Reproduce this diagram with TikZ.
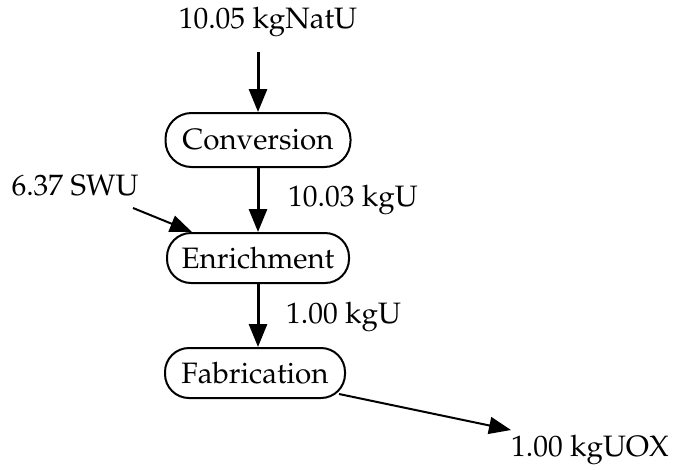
\documentclass[tikz,border=0pt]{standalone}
\usepackage[T1]{fontenc}
\usepackage{mathpazo}
\usetikzlibrary{arrows.meta}
\begin{document}
\begin{tikzpicture}[x=1pt,y=-1pt,
  every node/.style={font=\fontsize{29.5}{34}\selectfont},
  stage/.style={draw,line width=2pt,rounded corners=24pt,inner sep=0pt,minimum height=50pt},
  lbl/.style={inner sep=0pt},
  flow/.style={line width=3pt,-{Triangle[length=23pt,width=18pt]}},
  thin/.style={line width=2pt,-{Triangle[length=22pt,width=17pt]}}]
\useasboundingbox (0,0) rectangle (682,469);
\node[stage,minimum width=185pt,minimum height=54pt,rounded corners=26pt] (conv) at (258,140) {Conversion};
\node[stage,minimum width=182pt] (enr) at (258,258) {Enrichment};
\node[stage,minimum width=180pt] (fab) at (255,373) {Fabrication};
\node[lbl] (natu) at (268,22) {10.05 kgNatU};
\node[lbl,anchor=west] (l2) at (288,200) {10.03 kgU};
\node[lbl] (swu) at (75,186) {6.37 SWU};
\node[lbl,anchor=west] (l3) at (286,317) {1.00 kgU};
\node[lbl] (uox) at (590,450) {1.00 kgUOX};
\coordinate (natuS) at (258,52);
\coordinate (swuS) at (133,208);
\coordinate (uoxN) at (511,430);
\draw[flow] (natuS) -- (conv.north);
\draw[flow] (conv.south) -- (enr.north);
\draw[flow] (enr.south) -- (enr.south |- fab.north);
\draw[thin] (swuS) -- ([xshift=-66pt]enr.north);
\draw[thin] ([xshift=-7pt,yshift=5pt]fab.south east) -- (uoxN);
\end{tikzpicture}
\end{document}
